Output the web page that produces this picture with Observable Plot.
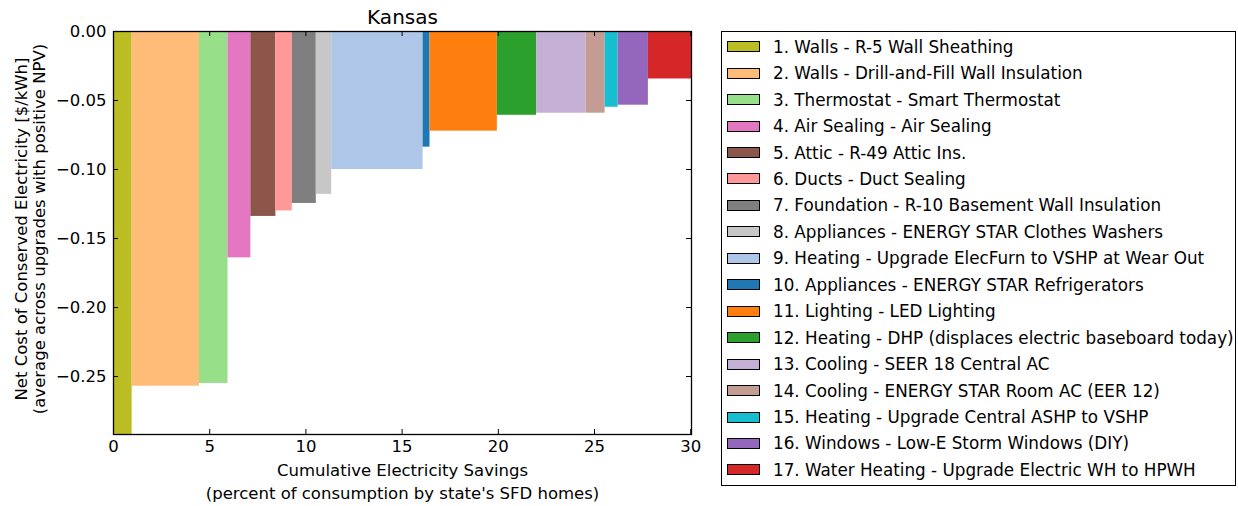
<!DOCTYPE html>
<html>
<head>
<meta charset="utf-8">
<script src="https://cdn.jsdelivr.net/npm/d3@7"></script>
<script src="https://cdn.jsdelivr.net/npm/@observablehq/plot@0.6"></script>
<style>
  html, body { margin: 0; padding: 0; background: #fff; }
  #wrap { position: relative; width: 1238px; height: 506px; font-family: "DejaVu Sans", sans-serif; }
  #legend { position: absolute; left: 721px; top: 31px; width: 515px; height: 455px; border: 1px solid #000; box-sizing: border-box; background: #fff; }
  .row { position: absolute; left: 0; height: 20px; display: flex; align-items: center; font-size: 16.8px; color: #000; white-space: nowrap; }
  .sw { width: 33px; height: 11px; border: 1.2px solid #000; box-sizing: border-box; margin-left: 5px; margin-right: 13px; }
</style>
</head>
<body>
<div id="wrap"><div id="chart"></div><div id="legend"></div></div>
<script>
const labels = [
  "1. Walls - R-5 Wall Sheathing",
  "2. Walls - Drill-and-Fill Wall Insulation",
  "3. Thermostat - Smart Thermostat",
  "4. Air Sealing - Air Sealing",
  "5. Attic - R-49 Attic Ins.",
  "6. Ducts - Duct Sealing",
  "7. Foundation - R-10 Basement Wall Insulation",
  "8. Appliances - ENERGY STAR Clothes Washers",
  "9. Heating - Upgrade ElecFurn to VSHP at Wear Out",
  "10. Appliances - ENERGY STAR Refrigerators",
  "11. Lighting - LED Lighting",
  "12. Heating - DHP (displaces electric baseboard today)",
  "13. Cooling - SEER 18 Central AC",
  "14. Cooling - ENERGY STAR Room AC (EER 12)",
  "15. Heating - Upgrade Central ASHP to VSHP",
  "16. Windows - Low-E Storm Windows (DIY)",
  "17. Water Heating - Upgrade Electric WH to HPWH"
];
const savings = [0.97, 3.50, 1.48, 1.19, 1.30, 0.85, 1.25, 0.80, 4.75, 0.36, 3.50, 2.04, 2.57, 0.99, 0.68, 1.57, 2.24];
const netCost = [-0.292, -0.257, -0.255, -0.164, -0.134, -0.130, -0.1246, -0.118, -0.100, -0.0838, -0.0722, -0.0607, -0.0592, -0.0592, -0.0549, -0.0534, -0.0344];
const colors = ["#bcbd22", "#ffbb78", "#98df8a", "#e377c2", "#8c564b", "#ff9896", "#7f7f7f", "#c7c7c7", "#aec7e8", "#1f77b4", "#ff7f0e", "#2ca02c", "#c5b0d5", "#c49c94", "#17becf", "#9467bd", "#d62728"];
const xTicks = [0, 5, 10, 15, 20, 25, 30];
const yTicks = [0, -0.05, -0.10, -0.15, -0.20, -0.25];
const title = "Kansas";
const xLabel = ["Cumulative Electricity Savings", "(percent of consumption by state's SFD homes)"];
const yLabel = ["Net Cost of Conserved Electricity [$/kWh]", "(average across upgrades with positive NPV)"];

const ends = d3.cumsum(savings);
const bars = labels.map((l, i) => ({label: l, x1: ends[i] - savings[i], x2: ends[i], y: netCost[i], color: colors[i]}));

const W = 1238, H = 506, mL = 113, mR = 547, mT = 31, mB = 72;
const pw = W - mL - mR, ph = H - mT - mB;
const tl = 5;
const fmtY = d3.format(".2f");
const lab = {textAnchor: "middle", lineAnchor: "middle", fontSize: 16.5, fill: "#000"};

const chart = Plot.plot({
  width: W, height: H,
  marginLeft: mL, marginRight: mR, marginTop: mT, marginBottom: mB,
  style: {fontFamily: "DejaVu Sans, sans-serif", fontSize: "16.5px", color: "#000", background: "#fff"},
  x: {domain: [0, d3.sum(savings)], axis: null},
  y: {domain: [d3.min(netCost), 0], axis: null},
  marks: [
    Plot.rect(bars, {x1: "x1", x2: "x2", y1: 0, y2: "y", fill: "color", clip: true}),
    Plot.ruleX(xTicks, {x: d => d, insetTop: ph - tl, stroke: "#000", strokeWidth: 1}),
    Plot.ruleX(xTicks, {x: d => d, insetBottom: ph - tl, stroke: "#000", strokeWidth: 1}),
    Plot.ruleY(yTicks, {y: d => d, insetRight: pw - tl, stroke: "#000", strokeWidth: 1}),
    Plot.ruleY(yTicks, {y: d => d, insetLeft: pw - tl, stroke: "#000", strokeWidth: 1}),
    Plot.frame({stroke: "#000", strokeWidth: 1.3}),
    Plot.axisX({ticks: xTicks, tickSize: 0, tickPadding: 6, label: null, fontSize: 16.5, tickFormat: d => String(d)}),
    Plot.axisY({ticks: yTicks, tickSize: 0, tickPadding: 7, label: null, fontSize: 16.5, tickFormat: d => fmtY(d)}),
    Plot.text([title], {...lab, text: d => d, frameAnchor: "top", dy: -14, fontSize: 20}),
    Plot.text([xLabel[0]], {...lab, text: d => d, frameAnchor: "bottom", dy: 36}),
    Plot.text([xLabel[1]], {...lab, text: d => d, frameAnchor: "bottom", dy: 59}),
    Plot.text([yLabel[0]], {...lab, text: d => d, frameAnchor: "left", dx: -92, dy: -4, rotate: -90}),
    Plot.text([yLabel[1]], {...lab, text: d => d, frameAnchor: "left", dx: -74, dy: -4, rotate: -90})
  ]
});
document.getElementById("chart").appendChild(chart);

const legend = document.getElementById("legend");
labels.forEach((l, i) => {
  const row = document.createElement("div");
  row.className = "row";
  row.style.top = (46.7 + 26.45 * i - 31 - 1 - 10) + "px";
  const sw = document.createElement("div");
  sw.className = "sw";
  sw.style.background = colors[i];
  const tx = document.createElement("span");
  tx.textContent = l;
  row.appendChild(sw);
  row.appendChild(tx);
  legend.appendChild(row);
});
</script>
</body>
</html>
